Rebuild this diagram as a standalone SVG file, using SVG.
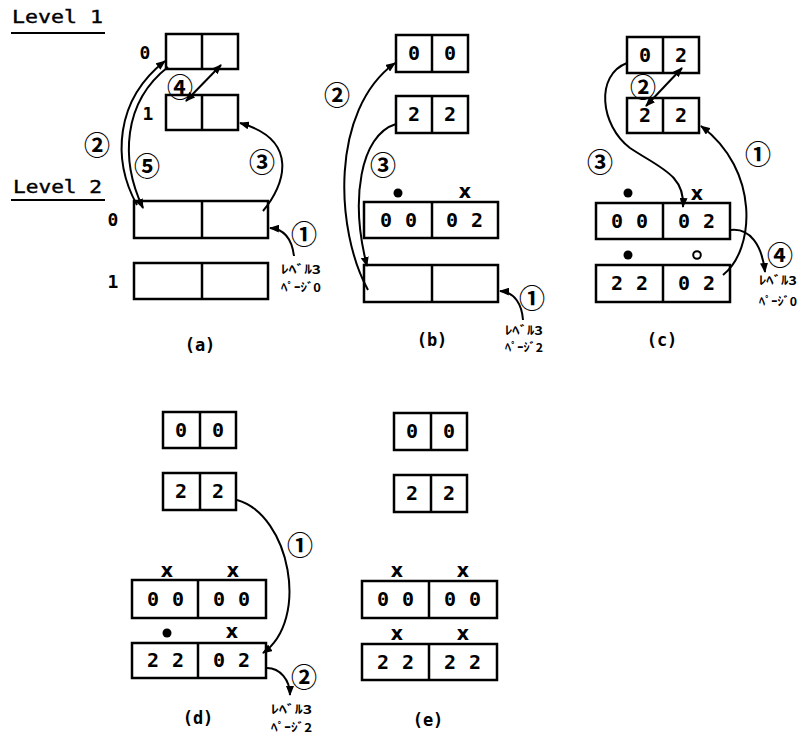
<svg xmlns="http://www.w3.org/2000/svg" width="800" height="736" viewBox="0 0 800 736">
<style>
.box{fill:#fff;stroke:#000;stroke-width:2.5}
.div{stroke:#000;stroke-width:2.5}
.d{font-family:"DejaVu Sans Mono",monospace;font-weight:bold;font-size:20px;text-anchor:middle;fill:#000}
.lbl{font-family:"DejaVu Sans Mono",monospace;font-weight:bold;font-size:18px;text-anchor:middle;fill:#000}
.lv{font-family:"DejaVu Sans Mono",monospace;font-size:18px;fill:#000;stroke:#000;stroke-width:0.4}
.cap{font-family:"DejaVu Sans Mono",monospace;font-weight:bold;font-size:17px;text-anchor:middle;fill:#000}
.cn{font-family:"Noto Sans CJK JP",sans-serif;font-weight:bold;font-size:26px;text-anchor:middle;dominant-baseline:central;fill:#000}
.kt{font-family:"Noto Sans CJK JP",sans-serif;font-weight:bold;font-size:12px;fill:#000}
.x{font-family:"DejaVu Sans",sans-serif;font-weight:bold;font-size:19px;text-anchor:middle;fill:#000}
.ul{stroke:#000;stroke-width:2}
.c{fill:none;stroke:#000;stroke-width:2}
.a{marker-end:url(#ah)}
.ab{marker-start:url(#ahs);marker-end:url(#ah)}
</style>
<defs>
<marker id="ah" markerWidth="10" markerHeight="8" refX="9" refY="4" orient="auto" markerUnits="userSpaceOnUse"><path d="M0,0 L10,4 L0,8 z" fill="#000"/></marker>
<marker id="ahs" markerWidth="10" markerHeight="8" refX="1" refY="4" orient="auto" markerUnits="userSpaceOnUse"><path d="M10,0 L0,4 L10,8 z" fill="#000"/></marker>
</defs>
<rect width="800" height="736" fill="#fff"/>

<!-- level headings -->
<g id="level1">
<text class="lv" x="12" y="23" textLength="91" lengthAdjust="spacingAndGlyphs">Level 1</text>
<line class="ul" x1="11" y1="33" x2="105" y2="33"/>
</g>
<g id="level2">
<text class="lv" x="13" y="193" textLength="89" lengthAdjust="spacingAndGlyphs">Level 2</text>
<line class="ul" x1="11" y1="200" x2="105" y2="200"/>
</g>

<!-- panel a -->
<g id="a-l1-0">
<rect class="box" x="166" y="34" width="72" height="35"/><line class="div" x1="202" y1="34" x2="202" y2="69"/>
<text class="lbl" x="145" y="59">0</text>
</g>
<g id="a-l1-1">
<rect class="box" x="166" y="95" width="72" height="35"/><line class="div" x1="202" y1="95" x2="202" y2="130"/>
<text class="lbl" x="148" y="120">1</text>
</g>
<g id="a-l2-0">
<rect class="box" x="134" y="201" width="134" height="37"/><line class="div" x1="202" y1="201" x2="202" y2="238"/>
<text class="lbl" x="113" y="226">0</text>
</g>
<g id="a-l2-1">
<rect class="box" x="134" y="263" width="134" height="36"/><line class="div" x1="202" y1="263" x2="202" y2="299"/>
<text class="lbl" x="113" y="288">1</text>
</g>
<g id="a-labels">
<text class="cn" x="97" y="143">②</text>
<text class="cn" x="147" y="164">⑤</text>
<text class="cn" x="262" y="160">③</text>
<text class="cn" x="180" y="85">④</text>
<text class="cn" x="304" y="232">①</text>
<text class="kt" x="281" y="274" textLength="40" lengthAdjust="spacingAndGlyphs">ﾚﾍﾞﾙ3</text>
<text class="kt" x="281" y="292" textLength="40" lengthAdjust="spacingAndGlyphs">ﾍﾟｰｼﾞ0</text>
<text class="cap" x="200" y="351">(a)</text>
</g>

<!-- panel b -->
<g id="b-0">
<rect class="box" x="396" y="35" width="72" height="37"/><line class="div" x1="432" y1="35" x2="432" y2="72"/>
<text class="d" x="414" y="60">0</text><text class="d" x="450" y="60">0</text>
</g>
<g id="b-1">
<rect class="box" x="396" y="96" width="72" height="37"/><line class="div" x1="432" y1="96" x2="432" y2="133"/>
<text class="d" x="414" y="121">2</text><text class="d" x="450" y="121">2</text>
</g>
<g id="b-2">
<rect class="box" x="364" y="202" width="134" height="36"/><line class="div" x1="432" y1="202" x2="432" y2="238"/>
<text class="d" x="386 398 411" y="227">0 0</text>
<text class="d" x="452 464.5 477" y="227">0 2</text>
<circle cx="398" cy="193" r="4.5" fill="#000"/>
<text class="x" x="465" y="198">x</text>
</g>
<g id="b-3">
<rect class="box" x="364" y="265" width="134" height="37"/><line class="div" x1="432" y1="265" x2="432" y2="302"/>
</g>
<g id="b-labels">
<text class="cn" x="337" y="93">②</text>
<text class="cn" x="383" y="163">③</text>
<text class="cn" x="532" y="296">①</text>
<text class="kt" x="505" y="335" textLength="38" lengthAdjust="spacingAndGlyphs">ﾚﾍﾞﾙ3</text>
<text class="kt" x="505" y="352" textLength="38" lengthAdjust="spacingAndGlyphs">ﾍﾟｰｼﾞ2</text>
<text class="cap" x="432" y="346">(b)</text>
</g>

<!-- panel c -->
<g id="c-0">
<rect class="box" x="627" y="37" width="72" height="36"/><line class="div" x1="663" y1="37" x2="663" y2="73"/>
<text class="d" x="645" y="62">0</text><text class="d" x="681" y="62">2</text>
</g>
<g id="c-1">
<rect class="box" x="627" y="98" width="72" height="35"/><line class="div" x1="663" y1="98" x2="663" y2="133"/>
<text class="d" x="645" y="122">2</text><text class="d" x="681" y="122">2</text>
</g>
<g id="c-2">
<rect class="box" x="596" y="203" width="134" height="36"/><line class="div" x1="663" y1="203" x2="663" y2="239"/>
<text class="d" x="617 629 642" y="228">0 0</text>
<text class="d" x="684 696.5 709" y="228">0 2</text>
<circle cx="628" cy="193" r="4.5" fill="#000"/>
<text class="x" x="697" y="200">x</text>
</g>
<g id="c-3">
<rect class="box" x="596" y="265" width="134" height="37"/><line class="div" x1="663" y1="265" x2="663" y2="302"/>
<text class="d" x="617 629 642" y="290">2 2</text>
<text class="d" x="684 696.5 709" y="290">0 2</text>
<circle cx="628" cy="255" r="4.5" fill="#000"/>
<circle cx="697" cy="255" r="3.8" fill="none" stroke="#000" stroke-width="2"/>
</g>
<g id="c-labels">
<text class="cn" x="643" y="85">②</text>
<text class="cn" x="600" y="160">③</text>
<text class="cn" x="758" y="152">①</text>
<text class="cn" x="780" y="253">④</text>
<text class="kt" x="759" y="285" textLength="38" lengthAdjust="spacingAndGlyphs">ﾚﾍﾞﾙ3</text>
<text class="kt" x="759" y="306" textLength="38" lengthAdjust="spacingAndGlyphs">ﾍﾟｰｼﾞ0</text>
<text class="cap" x="662" y="346">(c)</text>
</g>

<!-- panel d -->
<g id="d-0">
<rect class="box" x="163" y="412" width="73" height="36"/><line class="div" x1="200" y1="412" x2="200" y2="448"/>
<text class="d" x="181" y="437">0</text><text class="d" x="218" y="437">0</text>
</g>
<g id="d-1">
<rect class="box" x="163" y="473" width="73" height="37"/><line class="div" x1="200" y1="473" x2="200" y2="510"/>
<text class="d" x="181" y="498">2</text><text class="d" x="218" y="498">2</text>
</g>
<g id="d-2">
<rect class="box" x="132" y="580" width="134" height="38"/><line class="div" x1="198" y1="580" x2="198" y2="618"/>
<text class="d" x="153 165 178" y="606">0 0</text>
<text class="d" x="219 231.5 244" y="606">0 0</text>
<text class="x" x="167" y="577">x</text>
<text class="x" x="233" y="577">x</text>
</g>
<g id="d-3">
<rect class="box" x="132" y="643" width="134" height="35"/><line class="div" x1="198" y1="643" x2="198" y2="678"/>
<text class="d" x="153 165 178" y="667">2 2</text>
<text class="d" x="219 231.5 244" y="667">0 2</text>
<circle cx="167" cy="633" r="4.5" fill="#000"/>
<text class="x" x="232" y="638">x</text>
</g>
<g id="d-labels">
<text class="cn" x="300" y="543">①</text>
<text class="cn" x="304" y="675">②</text>
<text class="kt" x="271" y="714" textLength="41" lengthAdjust="spacingAndGlyphs">ﾚﾍﾞﾙ3</text>
<text class="kt" x="271" y="732" textLength="41" lengthAdjust="spacingAndGlyphs">ﾍﾟｰｼﾞ2</text>
<text class="cap" x="198" y="724">(d)</text>
</g>

<!-- panel e -->
<g id="e-0">
<rect class="box" x="394" y="413" width="73" height="37"/><line class="div" x1="431" y1="413" x2="431" y2="450"/>
<text class="d" x="412" y="438">0</text><text class="d" x="449" y="438">0</text>
</g>
<g id="e-1">
<rect class="box" x="394" y="475" width="73" height="37"/><line class="div" x1="431" y1="475" x2="431" y2="512"/>
<text class="d" x="412" y="500">2</text><text class="d" x="449" y="500">2</text>
</g>
<g id="e-2">
<rect class="box" x="362" y="581" width="135" height="37"/><line class="div" x1="429" y1="581" x2="429" y2="618"/>
<text class="d" x="383 395.5 408" y="606">0 0</text>
<text class="d" x="450 462.5 475" y="606">0 0</text>
<text class="x" x="397" y="577">x</text>
<text class="x" x="463" y="577">x</text>
</g>
<g id="e-3">
<rect class="box" x="362" y="644" width="135" height="36"/><line class="div" x1="429" y1="644" x2="429" y2="680"/>
<text class="d" x="383 395.5 408" y="669">2 2</text>
<text class="d" x="450 462.5 475" y="669">2 2</text>
<text class="x" x="397" y="640">x</text>
<text class="x" x="463" y="640">x</text>
</g>
<g id="e-labels">
<text class="cap" x="428" y="726">(e)</text>
</g>

<!-- connectors -->
<g id="connectors">
<path class="c a" d="M137 205 C112 160 115 100 165 61"/>
<path class="c a" d="M168 67 C123 102 120 160 143 208"/>
<path class="c a" d="M263 211 C285 185 300 140 240 123"/>
<line class="c ab" x1="186" y1="101" x2="221" y2="65"/>
<path class="c a" d="M294 256 C292 240 285 229 270 228"/>

<path class="c a" d="M368 290 C335 230 330 110 395 63"/>
<path class="c a" d="M396 124 C360 135 350 200 367 266"/>
<path class="c a" d="M523 320 C522 305 515 292 500 291"/>

<line class="c ab" x1="646" y1="106" x2="682" y2="68"/>
<path class="c a" d="M627 63 C595 75 600 125 630 148 C660 168 685 175 683 207"/>
<path class="c a" d="M723 275 C755 250 760 170 701 126"/>
<path class="c a" d="M731 230 C750 228 762 245 765 272"/>

<path class="c a" d="M237 500 C290 515 310 620 263 653"/>
<path class="c a" d="M267 668 C280 668 290 680 290 695"/>
</g>
</svg>
